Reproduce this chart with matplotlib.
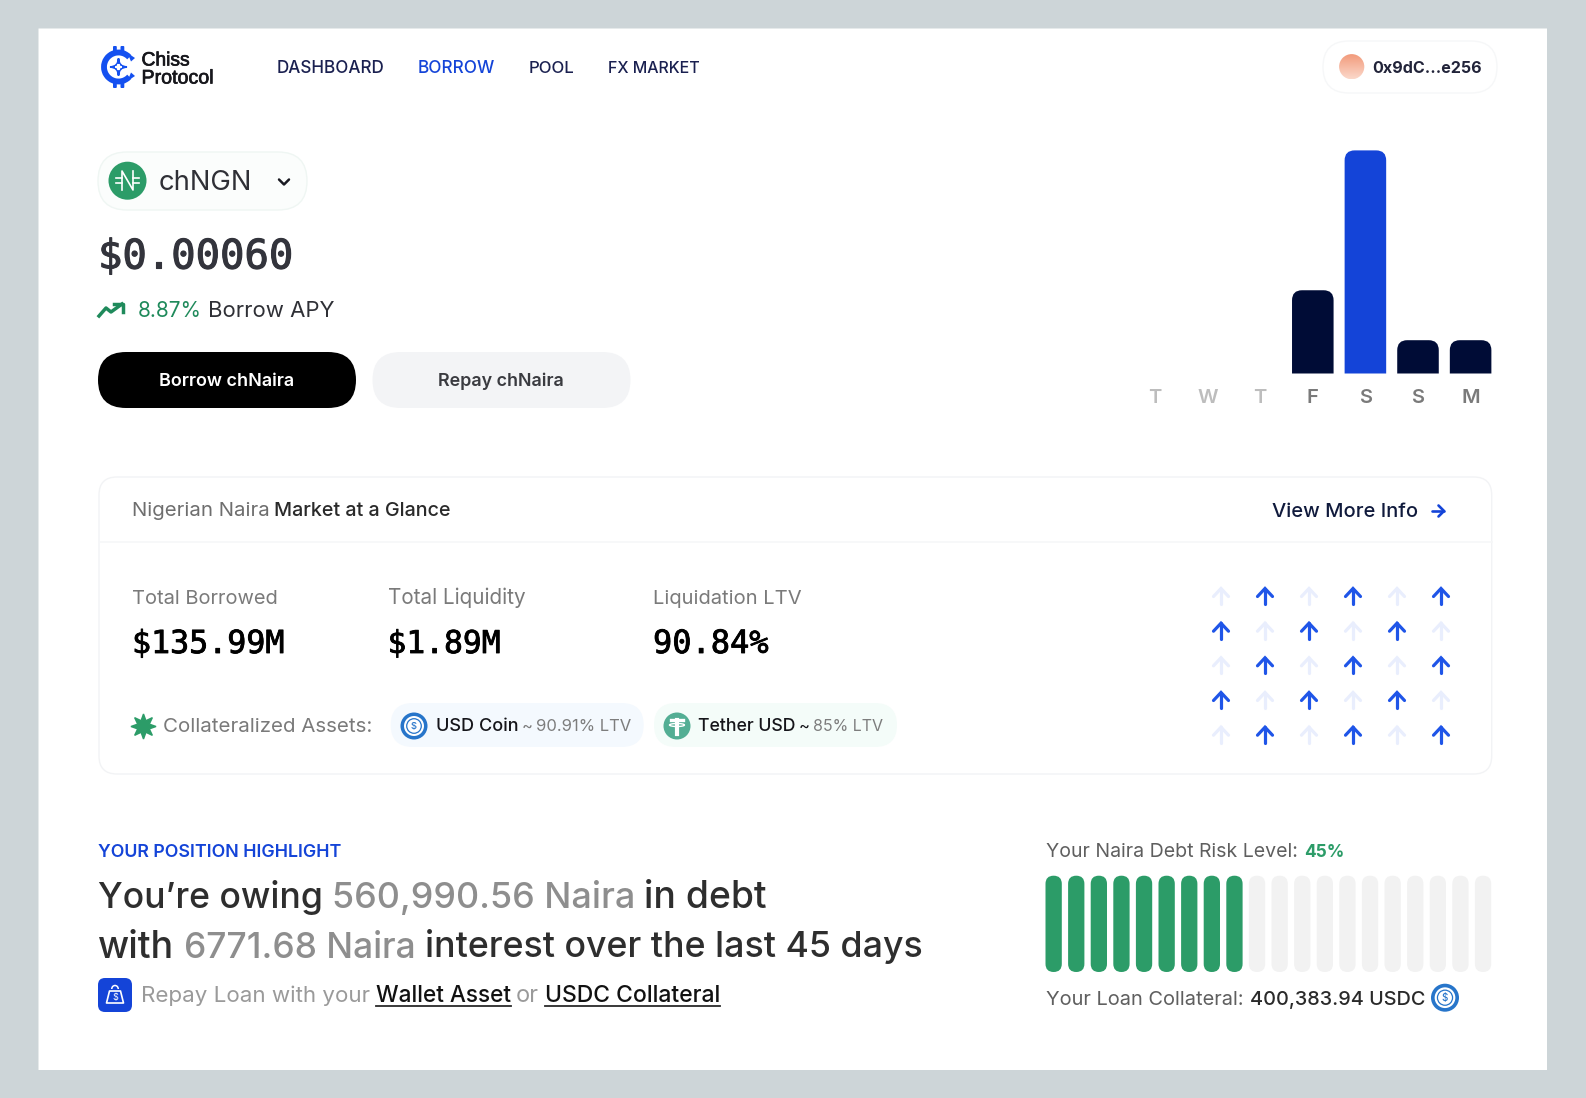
import numpy as np
import matplotlib
matplotlib.use("Agg")
import matplotlib.pyplot as plt
import matplotlib.patheffects as pe
from matplotlib.patches import FancyBboxPatch, Circle, PathPatch, Polygon, Arc
from matplotlib.path import Path

W, H = 1586, 1098
SANS = "Inter"
MONO = "DejaVu Sans Mono"

BLUE = "#1444D8"; NAVY = "#000C36"; GREEN = "#2C9C68"; DARK = "#2F3036"; GREY = "#8E8E8E"; MID = "#6E6E6E"

day_labels = ["T", "W", "T", "F", "S", "S", "M"]
day_values = [0, 0, 0, 25, 67, 10, 10]
day_colors = [NAVY, NAVY, NAVY, NAVY, BLUE, NAVY, NAVY]
day_label_colors = ["#BDBDBD", "#BDBDBD", "#BDBDBD", "#7A7A7A", "#7A7A7A", "#7A7A7A", "#7A7A7A"]

risk_level = 45
risk_segments = 20

stat_labels = ["Total Borrowed", "Total Liquidity", "Liquidation LTV"]
stat_values = ["$135.99M", "$1.89M", "90.84%"]
nav_items = ["DASHBOARD", "BORROW", "POOL", "FX MARKET"]

fig = plt.figure(figsize=(W / 100, H / 100), dpi=100, facecolor="#CDD5D8")
ax = fig.add_axes([0, 0, 1, 1])
ax.set_xlim(0, W); ax.set_ylim(H, 0); ax.axis("off")
R = fig.canvas.get_renderer()


def rbox(x0, y0, x1, y1, r, fc, ec="none", lw=0, z=1):
    p = FancyBboxPatch((x0 + r, y0 + r), x1 - x0 - 2 * r, y1 - y0 - 2 * r,
                       boxstyle=f"round,pad={r},rounding_size={r}", fc=fc, ec=ec, lw=lw, zorder=z)
    ax.add_patch(p)
    return p


def fit(x0, x1, y, s, color, size=14, weight="normal", family=None, z=5, stroke=0):
    t = ax.text(x0, y, s, color=color, fontsize=size, fontweight=weight,
                family=family or SANS, va="baseline", ha="left", zorder=z)
    w = t.get_window_extent(R).width
    t.set_fontsize(size * (x1 - x0) / w)
    if stroke:
        t.set_path_effects([pe.withStroke(linewidth=stroke, foreground=color)])
    return t


def four_star(x, y, s, fc, z=3):
    verts = [(x, y - s), (x, y), (x + s, y), (x, y), (x, y + s), (x, y), (x - s, y), (x, y), (x, y - s)]
    codes = [Path.MOVETO] + [Path.CURVE3] * 8
    ax.add_patch(PathPatch(Path(verts, codes), fc=fc, ec=fc, lw=1.4, zorder=z))


rbox(38.5, 28.5, 1547, 1070, 0.01, "white", z=0)

# logo
lc = "#1450F0"; cx, cy = 118.5, 67
ax.add_patch(Arc((cx, cy), 29, 29, theta1=42, theta2=318, color=lc, lw=4.2, zorder=3))
four_star(cx, cy, 8.5, lc)
four_star(cx, cy, 3, "white", z=4)
ax.add_patch(Polygon([[cx + 9, cy - 14], [cx + 16.5, cy - 9], [cx + 12.5, cy - 5.5]], closed=True, fc=lc, zorder=3))
ax.add_patch(Polygon([[cx + 9, cy + 14], [cx + 16.5, cy + 9], [cx + 12.5, cy + 5.5]], closed=True, fc=lc, zorder=3))
for dx in (-5.5, 2):
    rbox(cx + dx, 46, cx + dx + 3.8, 53, 1, lc, z=3)
    rbox(cx + dx, 81, cx + dx + 3.8, 88, 1, lc, z=3)
fit(141.5, 190, 65.5, "Chiss", "#17171C", family="Liberation Sans", stroke=0.5)
fit(141.5, 214, 83.5, "Protocol", "#17171C", family="Liberation Sans", stroke=0.5)

# nav
nav_x = [(277, 385), (418, 495.5), (529, 575), (608, 700)]
for s, (a, b) in zip(nav_items, nav_x):
    fit(a, b, 73, s, BLUE if s == "BORROW" else "#1A2050", weight="medium")

# wallet pill
rbox(1323, 41, 1497, 93, 26, "white", "#F6F7F8", 1.0)
grad = np.linspace(0, 1, 64)[:, None, None]
c0 = np.array([0xF2, 0x98, 0x78]) / 255; c1 = np.array([0xFB, 0xD8, 0xCA]) / 255
img = ax.imshow(c0 + (c1 - c0) * grad, extent=(1339, 1364.5, 79.5, 54), aspect="auto", zorder=3)
img.set_clip_path(Circle((1351.7, 66.7), 12.6, transform=ax.transData))
ax.set_xlim(0, W); ax.set_ylim(H, 0)
fit(1372, 1481, 73, "0x9dC...e256", "#22243A", weight="bold")

# token selector
rbox(98, 152, 307, 210, 29, "#FBFDFC", "#EFF6F3", 1.0)
ax.add_patch(Circle((127.5, 180.7), 19, fc=GREEN, zorder=3))
ax.plot((122, 122, 133, 133), (190, 171, 190, 171), color="white", lw=1.2, zorder=4)
for hy in (178, 183):
    ax.plot((116, 122), (hy, hy), color="white", lw=1.2, zorder=4)
    ax.plot((133, 139), (hy, hy), color="white", lw=1.2, zorder=4)
fit(158.7, 252.6, 190, "chNGN", DARK)
ax.plot((279, 284, 289), (179.5, 184.5, 179.5), color="#1A1A22", lw=1.8, zorder=4, solid_capstyle="round")

# price
fit(98, 294, 268.5, "$0.00060", "#33343C", family=MONO, stroke=0.8)
ax.plot((99, 106, 111, 122), (316, 308, 312, 304), color="#1F8A5B", lw=2.5, zorder=4)
ax.plot((114, 122.5, 122.5), (303.5, 303.5, 312), color="#1F8A5B", lw=2.5, zorder=4)
fit(138, 201.5, 317, "8.87%", "#1F8A5B")
fit(207.5, 334, 317, "Borrow APY", DARK)

# buttons
rbox(98, 352, 356, 408, 28, "black")
rbox(372.5, 352, 630.5, 408, 28, "#F3F4F6")
fit(158.7, 294, 385.5, "Borrow chNaira", "white", weight="semibold")
fit(438, 564, 385.5, "Repay chNaira", "#3A3B40", weight="semibold")

# day bars
pitch = 52.6; base_y = 373.5; unit = 3.33
bx = fig.add_axes([(1155 - pitch / 2) / W, 1 - base_y / H, 7 * pitch / W, 230 / H])
bx.set_xlim(-0.5, 6.5); bx.set_ylim(0, 230 / unit); bx.patch.set_alpha(0)
for sp in bx.spines.values():
    sp.set_visible(False)
bx.set_yticks([])
bx.set_xticks(range(7)); bx.set_xticklabels(day_labels, family=SANS, fontsize=14.5, fontweight="semibold")
bx.tick_params(axis="x", length=0, pad=11.5)
for lb, col in zip(bx.get_xticklabels(), day_label_colors):
    lb.set_color(col)
bw = 0.79; rx = 10 / pitch; ry = 10 / unit
for i, (v, col) in enumerate(zip(day_values, day_colors)):
    if v <= 0:
        continue
    a, b = i - bw / 2, i + bw / 2
    verts = [(a, 0), (a, v - ry), (a, v), (a + rx, v), (b - rx, v), (b, v), (b, v - ry), (b, 0), (a, 0)]
    codes = [Path.MOVETO, Path.LINETO, Path.CURVE3, Path.CURVE3, Path.LINETO, Path.CURVE3, Path.CURVE3, Path.LINETO, Path.CLOSEPOLY]
    bx.add_patch(PathPatch(Path(verts, codes), fc=col, ec="none"))

# market card
rbox(99, 477, 1491.7, 774, 18, "white", "#F2F3F5", 1.0)
ax.plot((99, 1491.7), (541.7, 541.7), color="#F6F7F8", lw=1.2, zorder=2)
fit(132.3, 270, 515.5, "Nigerian Naira", MID)
fit(274.5, 451, 515.5, "Market at a Glance", "#2A2A2A", weight="medium")
fit(1271.7, 1417, 517, "View More Info", "#101A3C", weight="medium")
ax.plot((1432, 1444), (511, 511), color=BLUE, lw=1.9, zorder=4, solid_capstyle="round")
ax.plot((1438.5, 1444, 1438.5), (505.5, 511, 516.5), color=BLUE, lw=1.9, zorder=4,
        solid_capstyle="round", solid_joinstyle="round")

lab_x = [(132.3, 278.5), (387.5, 525), (653, 801.5)]
val_x = [(132, 285), (387.5, 501), (653, 769)]
for s, v, a, b in zip(stat_labels, stat_values, lab_x, val_x):
    fit(a[0], a[1], 604.5, s, "#7A7A7A")
    fit(b[0], b[1], 653, v, "black", family=MONO, stroke=0.6)

ax.plot([143], [725.7], marker=(8, 1, 0), ms=18, color=GREEN, mec=GREEN, zorder=4)
fit(163, 373, 731.5, "Collateralized Assets:", "#7A7A7A")

rbox(390.7, 703, 643.7, 747, 22, "#F4F9FE")
rbox(654, 703, 897, 747, 22, "#F4FCF9")


def usdc(x, y, r):
    ax.add_patch(Circle((x, y), r, fc="#2775CA", zorder=3))
    ax.add_patch(Circle((x, y), r * 0.74, fc="white", zorder=3))
    ax.add_patch(Circle((x, y), r * 0.54, fc="white", ec="#2775CA", lw=0.9, zorder=3))
    ax.text(x, y + 0.5, "$", color="#2775CA", fontsize=r * 0.5, family=SANS, fontweight="medium",
            ha="center", va="center", zorder=4)


usdc(414, 726, 13.5)
ax.add_patch(Circle((677, 726), 13.5, fc="#53AE94", zorder=3))
ax.plot((671, 683), (720, 720), color="white", lw=2.4, zorder=4)
ax.plot((677, 677), (720, 734), color="white", lw=3, zorder=4)
ax.add_patch(Arc((677, 725), 15, 3, color="white", lw=1, zorder=4))
fit(435.7, 518, 731, "USD Coin", "#15151A", weight="medium")
fit(522, 533, 731, "~", "#7D7D7D")
fit(535.7, 631, 731, "90.91% LTV", "#7D7D7D")
fit(698, 796, 731, "Tether USD", "#15151A", weight="medium")
fit(799, 810, 731, "~", "#15151A")
fit(812.6, 882.5, 731, "85% LTV", "#7D7D7D")

# arrows
arrow_x = [1221, 1265, 1309, 1353, 1397, 1441]
arrow_y = [596, 630.7, 665.3, 700, 734.7]
for r, ay in enumerate(arrow_y):
    for c, axx in enumerate(arrow_x):
        col = "#1F55E8" if (r + c) % 2 else "#E9EEFD"
        ax.plot((axx, axx), (ay - 7.5, ay + 8), color=col, lw=2.3, zorder=4, solid_capstyle="round")
        ax.plot((axx - 7.5, axx, axx + 7.5), (ay + 0.5, ay - 7.5, ay + 0.5), color=col, lw=2.3, zorder=4,
                solid_capstyle="round", solid_joinstyle="miter")

# position
fit(98, 341, 856.7, "YOUR POSITION HIGHLIGHT", BLUE, weight="semibold")
INK = "#2E2E2E"
fit(98, 322, 908, "You\u2019re owing", INK, weight="medium")
fit(332.5, 635, 908, "560,990.56 Naira", GREY, weight="medium")
fit(644, 766, 908, "in debt", INK, weight="medium")
fit(98, 174, 957.5, "with", INK, weight="medium")
fit(184, 415, 957.5, "6771.68 Naira", GREY, weight="medium")
fit(425, 921, 957.5, "interest over the last 45 days", INK, weight="medium")

rbox(98, 978, 132, 1012, 7, BLUE)
ax.add_patch(Polygon([[109.5, 991], [120.5, 991], [123.5, 1003], [106.5, 1003]], closed=True,
                     fc="none", ec="white", lw=1.2, zorder=4, joinstyle="round"))
ax.add_patch(Arc((115, 989), 6.5, 7, theta1=180, theta2=360, color="white", lw=1.1, zorder=4))
ax.text(115, 997.5, "$", color="white", fontsize=6.5, family=SANS, ha="center", va="center", zorder=5)
fit(141, 370, 1001.5, "Repay Loan with your", "#9A9A9A")
fit(376, 511, 1001.5, "Wallet Asset", "#111111", weight="medium")
fit(516, 539, 1001.5, "or", "#9A9A9A")
fit(545, 720, 1001.5, "USDC Collateral", "#111111", weight="medium")
ax.plot((376, 511), (1006, 1006), color="#2A2A2A", lw=1.3, zorder=4)
ax.plot((545, 720), (1006, 1006), color="#2A2A2A", lw=1.3, zorder=4)

# risk
fit(1046, 1298, 857, "Your Naira Debt Risk Level:", "#5F5F5F")
fit(1303.7, 1344, 857, f"{risk_level}%", GREEN, weight="bold", size=14)
filled = round(risk_level / 100 * risk_segments)
seg_pitch = 22.6; seg_w = 16.3
for i in range(risk_segments):
    x0 = 1045.5 + i * seg_pitch
    rbox(x0, 875.7, x0 + seg_w, 972, seg_w / 2 - 0.01, GREEN if i < filled else "#F2F2F2")
fit(1046, 1244, 1005, "Your Loan Collateral:", "#5F5F5F")
fit(1250, 1425, 1005, "400,383.94 USDC", "#2A2A2A", weight="medium")
usdc(1445, 997.7, 14)

fig.savefig("out.png", dpi=100, facecolor=fig.get_facecolor())
